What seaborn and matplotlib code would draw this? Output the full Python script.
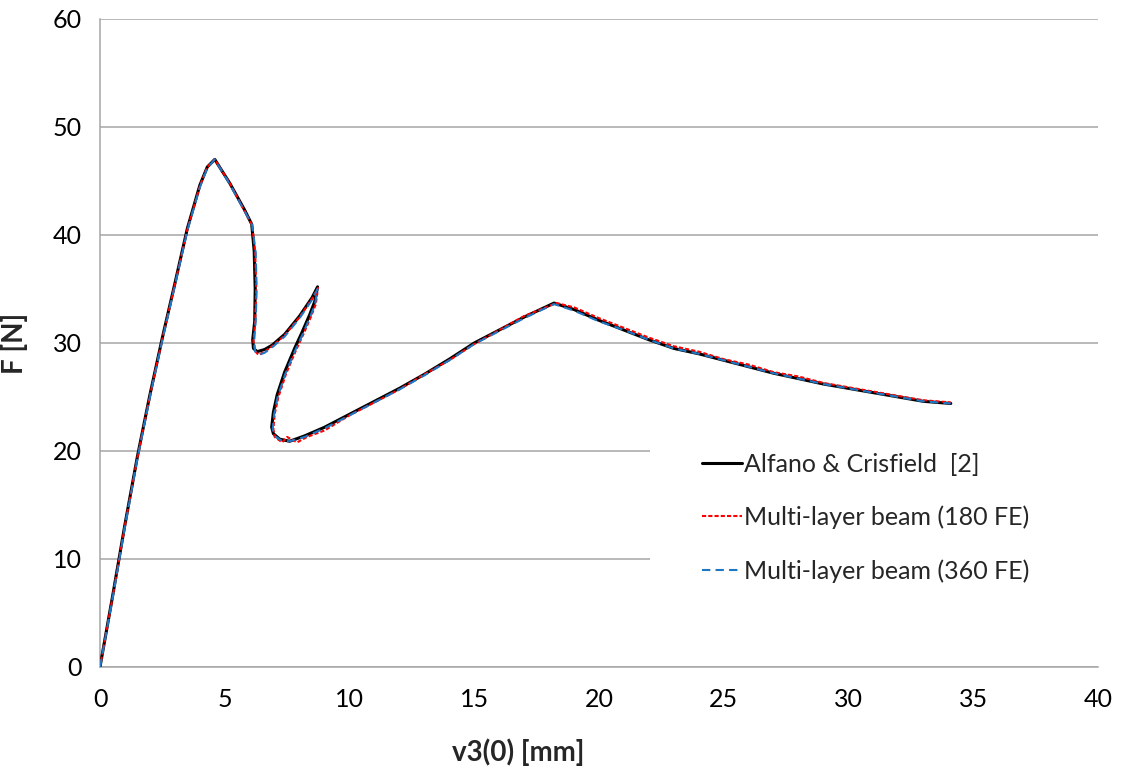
import numpy as np
import pandas as pd
import matplotlib
matplotlib.use("Agg")
import matplotlib.pyplot as plt
import seaborn as sns

# displacement v3(0) [mm] and force F [N]
x_alfano = [0, 0.5, 1.0, 1.5, 2.0, 2.5, 3.0, 3.5, 4.0, 4.3, 4.6, 5.2, 5.8, 6.08, 6.18, 6.22,
            6.2, 6.12, 6.15, 6.3, 6.6, 6.9, 7.4, 8.0, 8.5, 8.72, 8.6, 8.4, 8.1, 7.8, 7.4,
            7.1, 6.95, 6.88, 6.95, 7.2, 7.6, 8.2, 9.0, 10.0, 11.0, 12.0, 13.0, 14.0, 15.0,
            16.0, 17.0, 18.2, 19.0, 20.0, 21.0, 22.0, 23.0, 24.0, 25.0, 26.0, 27.0, 28.0,
            29.0, 30.0, 31.0, 32.0, 33.0, 34.1]
y_alfano = [0, 6.5, 13.2, 19.5, 25.2, 30.5, 35.5, 40.6, 44.6, 46.3, 47.0, 44.8, 42.3, 41.0,
            38.5, 35.0, 32.0, 30.3, 29.5, 29.2, 29.4, 29.8, 30.8, 32.5, 34.2, 35.2, 33.8,
            32.6, 31.0, 29.5, 27.3, 25.2, 23.6, 22.2, 21.6, 21.1, 20.9, 21.4, 22.2, 23.4,
            24.6, 25.8, 27.1, 28.5, 30.0, 31.2, 32.4, 33.7, 33.1, 32.1, 31.2, 30.3, 29.5,
            29.0, 28.4, 27.8, 27.2, 26.7, 26.2, 25.8, 25.4, 25.0, 24.6, 24.4]

x_180 = [0, 0.5, 1.0, 1.5, 2.0, 2.5, 3.0, 3.5, 4.0, 4.3, 4.6, 5.2, 5.8, 6.1, 6.22, 6.26,
         6.22, 6.15, 6.2, 6.35, 6.6, 6.9, 7.4, 8.0, 8.5, 8.74, 8.65, 8.45, 8.15, 7.85, 7.45,
         7.15, 7.0, 6.95, 7.0, 7.3, 7.5, 7.9, 8.3, 9.0, 10.0, 11.0, 12.0, 13.0, 14.0, 15.0,
         16.0, 17.0, 18.3, 19.0, 20.0, 21.0, 22.0, 23.0, 24.0, 25.0, 26.0, 27.0, 28.0,
         29.0, 30.0, 31.0, 32.0, 33.0, 34.1]
y_180 = [0, 6.4, 13.1, 19.4, 25.1, 30.4, 35.4, 40.5, 44.5, 46.3, 47.0, 44.8, 42.2, 40.9,
         38.4, 35.0, 32.0, 30.2, 29.3, 28.9, 29.2, 29.7, 30.7, 32.4, 34.1, 35.1, 33.6,
         32.4, 30.8, 29.3, 27.1, 25.0, 23.4, 22.0, 21.3, 20.8, 21.3, 20.8, 21.3, 21.9,
         23.3, 24.5, 25.7, 27.1, 28.4, 29.9, 31.2, 32.5, 33.7, 33.3, 32.3, 31.4, 30.5,
         29.7, 29.2, 28.5, 28.0, 27.3, 26.9, 26.3, 25.9, 25.5, 25.1, 24.7, 24.5]

x_360 = [0, 0.5, 1.0, 1.5, 2.0, 2.5, 3.0, 3.5, 4.0, 4.3, 4.6, 5.2, 5.8, 6.1, 6.24, 6.28,
         6.24, 6.18, 6.22, 6.38, 6.6, 6.9, 7.4, 8.0, 8.5, 8.72, 8.62, 8.42, 8.12, 7.82, 7.42,
         7.12, 6.98, 6.92, 7.0, 7.25, 7.6, 8.2, 9.0, 10.0, 11.0, 12.0, 13.0, 14.0, 15.0,
         16.0, 17.0, 18.2, 19.0, 20.0, 21.0, 22.0, 23.0, 24.0, 25.0, 26.0, 27.0, 28.0,
         29.0, 30.0, 31.0, 32.0, 33.0, 34.1]
y_360 = [0, 6.3, 13.0, 19.3, 25.0, 30.3, 35.3, 40.4, 44.4, 46.2, 47.0, 44.7, 42.2, 40.9,
         38.4, 35.0, 32.0, 30.2, 29.2, 28.9, 29.1, 29.6, 30.6, 32.3, 34.0, 35.0, 33.6,
         32.4, 30.8, 29.3, 27.1, 25.0, 23.4, 22.0, 21.4, 21.0, 20.9, 21.3, 22.1, 23.3,
         24.5, 25.7, 27.0, 28.4, 29.9, 31.1, 32.3, 33.6, 33.0, 32.0, 31.2, 30.3, 29.5,
         29.0, 28.4, 27.8, 27.2, 26.7, 26.2, 25.8, 25.4, 25.0, 24.6, 24.4]

labels = ["Alfano & Crisfield  [2]", "Multi-layer beam (180 FE)", "Multi-layer beam (360 FE)"]
colors = ["black", "#ff0000", "#1f77c4"]

df = pd.concat([
    pd.DataFrame({"v3": x_alfano, "F": y_alfano, "series": labels[0], "order": range(len(x_alfano))}),
    pd.DataFrame({"v3": x_180, "F": y_180, "series": labels[1], "order": range(len(x_180))}),
    pd.DataFrame({"v3": x_360, "F": y_360, "series": labels[2], "order": range(len(x_360))}),
])

sns.set_style("white")
plt.rcParams["font.family"] = ["Lato", "DejaVu Sans"]

fig = plt.figure(figsize=(11.22, 7.70), dpi=100)
ax = fig.add_axes([100 / 1122, 1 - 667 / 770, 998 / 1122, 648 / 770])

sns.lineplot(data=df, x="v3", y="F", hue="series", style="series",
             palette=dict(zip(labels, colors)),
             dashes={labels[0]: "", labels[1]: (2, 1), labels[2]: (4, 2.5)},
             size="series", sizes={labels[0]: 2.2, labels[1]: 1.5, labels[2]: 1.5},
             sort=False, estimator=None, ax=ax, zorder=3)

grid_c = "#a6a6a6"
ax.set_xlim(0, 40)
ax.set_ylim(0, 60)
ax.set_xticks(np.arange(0, 41, 5))
ax.set_yticks(np.arange(0, 61, 10))
ax.grid(axis="y", color=grid_c, linewidth=1.1)
ax.grid(axis="x", visible=False)
for s in ["top", "right"]:
    ax.spines[s].set_visible(False)
for s in ["left", "bottom"]:
    ax.spines[s].set_color(grid_c)
    ax.spines[s].set_linewidth(1.1)
ax.tick_params(axis="both", which="major", direction="out", length=5, width=1.1,
               color=grid_c, labelsize=18, labelcolor="black", pad=8)
ax.tick_params(axis="x", pad=10)

ax.set_xlabel("v3(0) [mm]", fontsize=20, fontweight="bold")
ax.set_ylabel("F [N]", fontsize=20, fontweight="bold")
ax.xaxis.set_label_coords((518 - 100) / 998, -0.11)
ax.yaxis.set_label_coords(-0.072, 0.5)

# legend box is white and hides the gridlines behind it, as in the original
handles, labs = ax.get_legend_handles_labels()
leg = ax.legend(handles[:3], labs[:3], loc="upper left",
                bbox_to_anchor=(0.551, 0.412 - 0.1, 0.449, 0.1), mode="expand",
                fontsize=18, frameon=True, borderpad=2.1, handlelength=1.6,
                handletextpad=0.05, labelspacing=1.2, borderaxespad=0)
leg.get_frame().set_facecolor("white")
leg.get_frame().set_edgecolor("none")
leg.get_frame().set_alpha(1)
leg.set_zorder(2.5)

fig.savefig("out.png", dpi=100)
